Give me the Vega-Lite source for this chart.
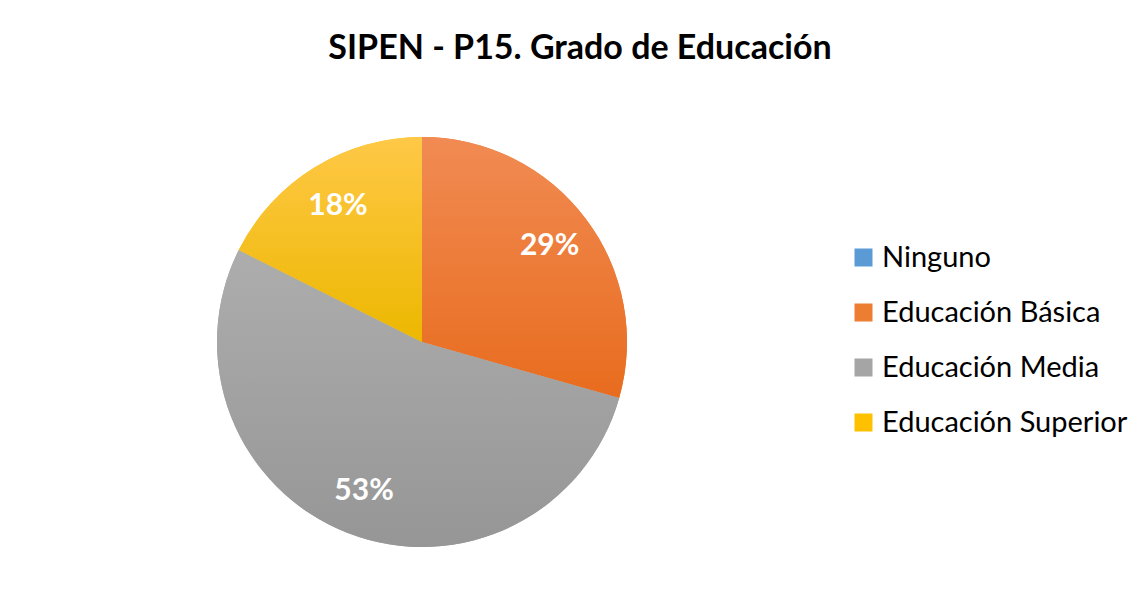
{
  "$schema": "https://vega.github.io/schema/vega-lite/v6.json",
  "autosize": {"type": "none"},
  "width": 420,
  "height": 420,
  "padding": {"left": 212, "top": 132, "right": 515, "bottom": 54},
  "background": "white",
  "title": {
    "text": "SIPEN - P15. Grado de Educación",
    "font": "Lato",
    "fontSize": 34,
    "fontWeight": "bold",
    "color": "#000000",
    "anchor": "middle",
    "dx": 158,
    "offset": 66
  },
  "data": {
    "values": [
      {"idx": 1, "categoria": "Ninguno", "valor": 0.0},
      {"idx": 2, "categoria": "Educación Básica", "valor": 0.294},
      {"idx": 3, "categoria": "Educación Media", "valor": 0.530},
      {"idx": 4, "categoria": "Educación Superior", "valor": 0.176}
    ]
  },
  "layer": [
    {
      "transform": [{"stack": "valor", "groupby": [], "sort": [{"field": "idx", "order": "ascending"}], "as": ["v0", "v1"]}],
      "mark": {"type": "arc", "outerRadius": 205, "stroke": null},
      "encoding": {
        "theta": {"field": "v0", "type": "quantitative", "scale": {"domain": [0, 1]}},
        "theta2": {"field": "v1"},
        "color": {
          "field": "categoria",
          "type": "nominal",
          "scale": {
            "domain": ["Ninguno", "Educación Básica", "Educación Media", "Educación Superior"],
            "range": ["#5B9BD5", "#ED7D31", "#A5A5A5", "#FFC000"]
          },
          "legend": {
            "title": null,
            "orient": "none",
            "legendX": 637,
            "legendY": 111,
            "symbolType": "square",
            "symbolSize": 324,
            "symbolStrokeWidth": 0,
            "symbolOpacity": 1,
            "labelFont": "Lato",
            "labelFontSize": 29,
            "labelColor": "#000000",
            "labelOffset": 4,
            "labelLimit": 400,
            "rowPadding": 25
          }
        }
      }
    },
    {
      "transform": [
        {"stack": "valor", "groupby": [], "sort": [{"field": "idx", "order": "ascending"}], "as": ["v0", "v1"]},
        {"filter": "datum.categoria === 'Educación Básica'"}
      ],
      "mark": {"type": "arc", "outerRadius": 205, "stroke": null,
        "fill": {"gradient": "linear", "x1": 0, "y1": 0, "x2": 0, "y2": 1, "stops": [{"offset": 0, "color": "#F18B53"}, {"offset": 1, "color": "#E86C1E"}]}},
      "encoding": {
        "theta": {"field": "v0", "type": "quantitative"},
        "theta2": {"field": "v1"}
      }
    },
    {
      "transform": [
        {"stack": "valor", "groupby": [], "sort": [{"field": "idx", "order": "ascending"}], "as": ["v0", "v1"]},
        {"filter": "datum.categoria === 'Educación Media'"}
      ],
      "mark": {"type": "arc", "outerRadius": 205, "stroke": null,
        "fill": {"gradient": "linear", "x1": 0, "y1": 0, "x2": 0, "y2": 1, "stops": [{"offset": 0, "color": "#ADADAD"}, {"offset": 1, "color": "#969696"}]}},
      "encoding": {
        "theta": {"field": "v0", "type": "quantitative"},
        "theta2": {"field": "v1"}
      }
    },
    {
      "transform": [
        {"stack": "valor", "groupby": [], "sort": [{"field": "idx", "order": "ascending"}], "as": ["v0", "v1"]},
        {"filter": "datum.categoria === 'Educación Superior'"}
      ],
      "mark": {"type": "arc", "outerRadius": 205, "stroke": null,
        "fill": {"gradient": "linear", "x1": 0, "y1": 0, "x2": 0, "y2": 1, "stops": [{"offset": 0, "color": "#FFC847"}, {"offset": 1, "color": "#ECB800"}]}},
      "encoding": {
        "theta": {"field": "v0", "type": "quantitative"},
        "theta2": {"field": "v1"}
      }
    },
    {
      "transform": [{"filter": "datum.valor > 0"}],
      "mark": {"type": "text", "radius": 160, "font": "Lato", "fontSize": 30, "fontWeight": "bold", "fill": "#FFFFFF"},
      "encoding": {
        "theta": {"field": "valor", "type": "quantitative", "stack": true},
        "order": {"field": "idx", "type": "quantitative"},
        "text": {"field": "valor", "type": "quantitative", "format": ".0%"}
      }
    }
  ],
  "config": {"view": {"stroke": null}}
}
